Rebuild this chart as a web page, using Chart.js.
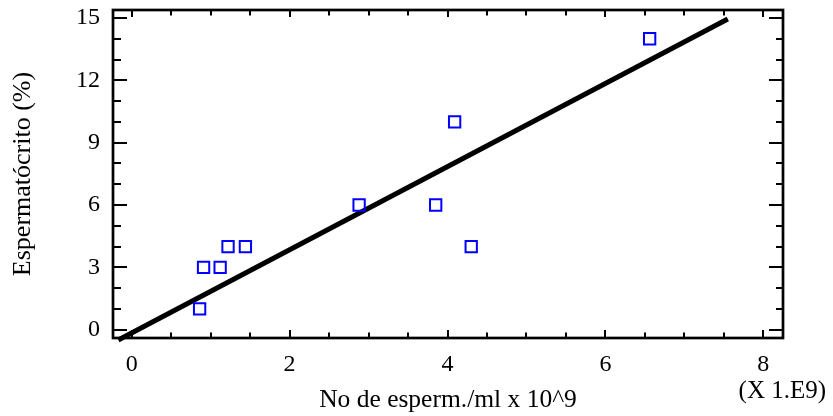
<!DOCTYPE html>
<html>
<head>
<meta charset="utf-8">
<script src="https://cdn.jsdelivr.net/npm/chart.js@4.4.1/dist/chart.umd.min.js"></script>
<style>
  html, body { margin: 0; padding: 0; background: #ffffff; }
  #wrap { width: 833px; height: 416px; }
</style>
</head>
<body>
<div id="wrap"><canvas id="c" width="833" height="416"></canvas></div>
<script>
// ---- data ----
const xValues = [0.86, 0.91, 1.12, 1.22, 1.44, 2.88, 3.85, 4.09, 4.30, 6.56];
const yValues = [1, 3, 3, 4, 4, 6, 6, 10, 4, 14];
const fitX = [-0.17, 7.55];
const fitY = [-0.5, 14.95];
const xTickLabels = [0, 2, 4, 6, 8];
const yTickLabels = [0, 3, 6, 9, 12, 15];
const xTitle = 'No de esperm./ml x 10^9';
const yTitle = 'Espermatócrito (%)';
const xMultiplier = '(X 1.E9)';

const FONT = 'Liberation Serif';

const framePlugin = {
  id: 'frame',
  afterDatasetsDraw(chart) {
    const {ctx, chartArea: a, scales: {x, y}} = chart;
    ctx.save();
    ctx.strokeStyle = '#000';
    ctx.lineWidth = 2;
    ctx.beginPath();
    for (let v = 0; v <= 8.0001; v += 0.5) {
      const px = Math.round(x.getPixelForValue(v));
      const major = Math.abs(v / 2 - Math.round(v / 2)) < 1e-6;
      const lb = major ? 8 : 5.5;
      const lt = major ? 7 : 5.5;
      ctx.moveTo(px, a.bottom); ctx.lineTo(px, a.bottom - lb);
      ctx.moveTo(px, a.top); ctx.lineTo(px, a.top + lt);
    }
    for (let v = 0; v <= 15.0001; v += 1) {
      const py = Math.round(y.getPixelForValue(v));
      const major = v % 3 === 0;
      ctx.moveTo(a.left, py); ctx.lineTo(a.left + (major ? 14 : 8), py);
      ctx.moveTo(a.right, py); ctx.lineTo(a.right - (major ? 14 : 7), py);
    }
    ctx.stroke();
    ctx.lineWidth = 2.7;
    ctx.strokeRect(a.left, a.top, a.right - a.left, a.bottom - a.top);
    ctx.fillStyle = '#000';
    ctx.font = '25px "' + FONT + '"';
    ctx.textAlign = 'center';
    ctx.textBaseline = 'middle';
    ctx.fillText(xMultiplier, x.getPixelForValue(8) + 19, 391);
    ctx.restore();
  }
};

new Chart(document.getElementById('c'), {
  type: 'scatter',
  data: {
    datasets: [
      {
        type: 'line',
        data: fitX.map((v, i) => ({x: v, y: fitY[i]})),
        borderColor: '#000',
        borderWidth: 5,
        pointRadius: 0,
        fill: false,
        clip: false,
        order: 2
      },
      {
        data: xValues.map((v, i) => ({x: v, y: yValues[i]})),
        pointStyle: 'rect',
        pointRadius: 8,
        borderColor: '#0000ff',
        borderWidth: 2,
        backgroundColor: 'rgba(0,0,0,0)',
        order: 1
      }
    ]
  },
  options: {
    responsive: false,
    animation: false,
    events: [],
    layout: { padding: { left: 0, right: 50, top: 10, bottom: 0 } },
    plugins: { legend: { display: false }, tooltip: { enabled: false } },
    scales: {
      x: {
        type: 'linear',
        min: -0.237,
        max: 8.249,
        grid: { display: false, drawTicks: false },
        border: { display: false },
        afterBuildTicks: s => { s.ticks = xTickLabels.map(v => ({value: v})); },
        afterFit: s => { s.height = 78; s.paddingLeft = 0; s.paddingRight = 0; },
        ticks: { color: '#000', padding: 12, font: { family: FONT, size: 24 }, maxRotation: 0, autoSkip: false },
        title: { display: true, text: xTitle, color: '#000', font: { family: FONT, size: 25.5 }, padding: { top: 0, bottom: 0 } }
      },
      y: {
        type: 'linear',
        min: -0.40,
        max: 15.385,
        grid: { display: false, drawTicks: false },
        border: { display: false },
        afterBuildTicks: s => { s.ticks = yTickLabels.map(v => ({value: v})); },
        afterFit: s => { s.width = 113; s.paddingTop = 0; s.paddingBottom = 0; },
        ticks: { color: '#000', padding: 13, font: { family: FONT, size: 24 }, autoSkip: false },
        title: { display: true, text: yTitle, color: '#000', font: { family: FONT, size: 26 }, padding: { top: 8, bottom: 0 } }
      }
    }
  },
  plugins: [framePlugin]
});
</script>
</body>
</html>
